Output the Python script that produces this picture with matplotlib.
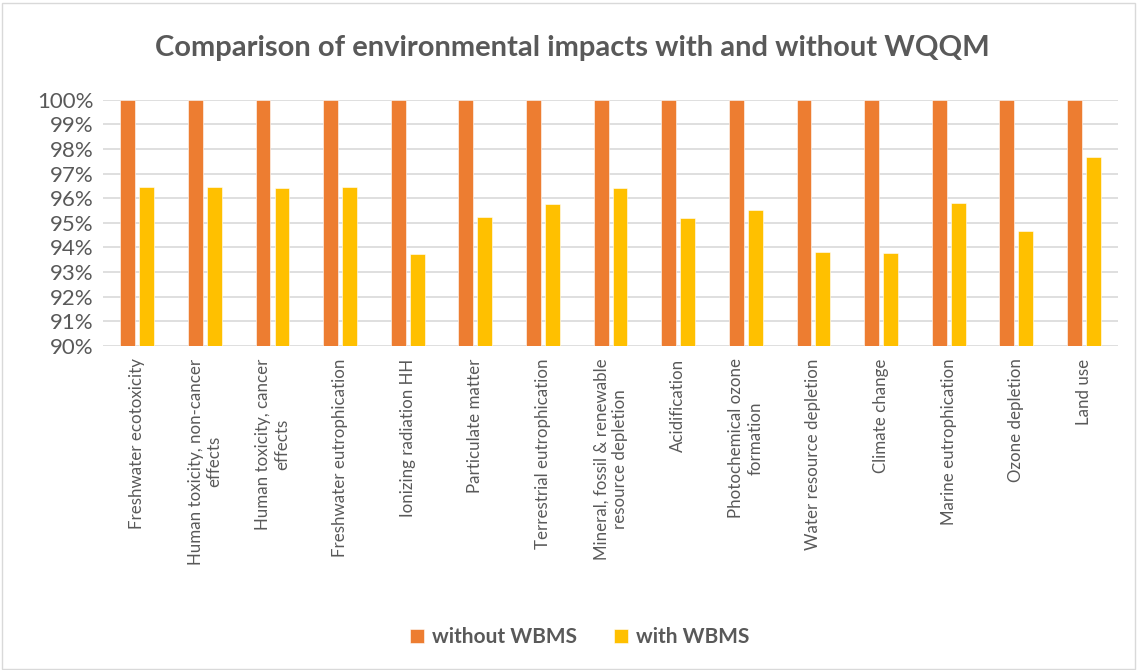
import numpy as np
import matplotlib.pyplot as plt
from matplotlib.patches import Rectangle

# Data
categories = [
    "Freshwater ecotoxicity",
    "Human toxicity, non-cancer\neffects",
    "Human toxicity, cancer\neffects",
    "Freshwater eutrophication",
    "Ionizing radiation HH",
    "Particulate matter",
    "Terrestrial eutrophication",
    "Mineral, fossil & renewable\nresource depletion",
    "Acidification",
    "Photochemical ozone\nformation",
    "Water resource depletion",
    "Climate change",
    "Marine eutrophication",
    "Ozone depletion",
    "Land use",
]
without_wbms = [100] * 15
with_wbms = [96.47, 96.47, 96.40, 96.44, 93.75, 95.24, 95.75, 96.40,
             95.20, 95.52, 93.82, 93.79, 95.79, 94.68, 97.66]
yticks = list(range(90, 101))

orange = "#ED7D31"
yellow = "#FFC000"
grey_text = "#595959"

plt.rcParams['font.family'] = ['Lato', 'DejaVu Sans']

fig = plt.figure(figsize=(11.37, 6.70), dpi=100)
ax = fig.add_axes([0.091, 0.4836, 0.892, 0.3675])

x = np.arange(len(categories))
w = 0.22
off = 0.14
ax.bar(x - off, without_wbms, w, color=orange, edgecolor="white", linewidth=0.4,
       label="without WBMS", zorder=3)
ax.bar(x + off, with_wbms, w, color=yellow, edgecolor="white", linewidth=0.4,
       label="with WBMS", zorder=3)

ax.set_ylim(90, 100)
ax.set_xlim(-0.5, len(categories) - 0.5)
ax.set_yticks(yticks)
ax.set_yticklabels([f"{v}%" for v in yticks], fontsize=16, color=grey_text)
ax.set_xticks(x)
ax.set_xticklabels(categories, rotation=90, fontsize=12.2, color=grey_text,
                   ha="center", va="top", multialignment="center")
ax.tick_params(length=0, pad=7)
ax.tick_params(axis="x", pad=9)
ax.grid(axis="y", color="#d9d9d9", linewidth=1.2, zorder=0)
for s in ax.spines.values():
    s.set_visible(False)

fig.text(0.503, 0.928, "Comparison of environmental impacts with and without WQQM",
         ha="center", va="center", fontsize=21, fontweight="bold", color=grey_text)

leg = fig.legend(loc="center", bbox_to_anchor=(0.51, 0.049), ncol=2, frameon=False,
                 fontsize=15, handlelength=0.65, handleheight=0.65, columnspacing=1.8,
                 handletextpad=0.4)
for t in leg.get_texts():
    t.set_color(grey_text)
    t.set_fontweight("bold")

# chart border
fig.patches.append(Rectangle((0.002, 0.002), 0.996, 0.994, transform=fig.transFigure,
                             fill=False, edgecolor="#d9d9d9", linewidth=1))

fig.savefig("out.png", dpi=100)
